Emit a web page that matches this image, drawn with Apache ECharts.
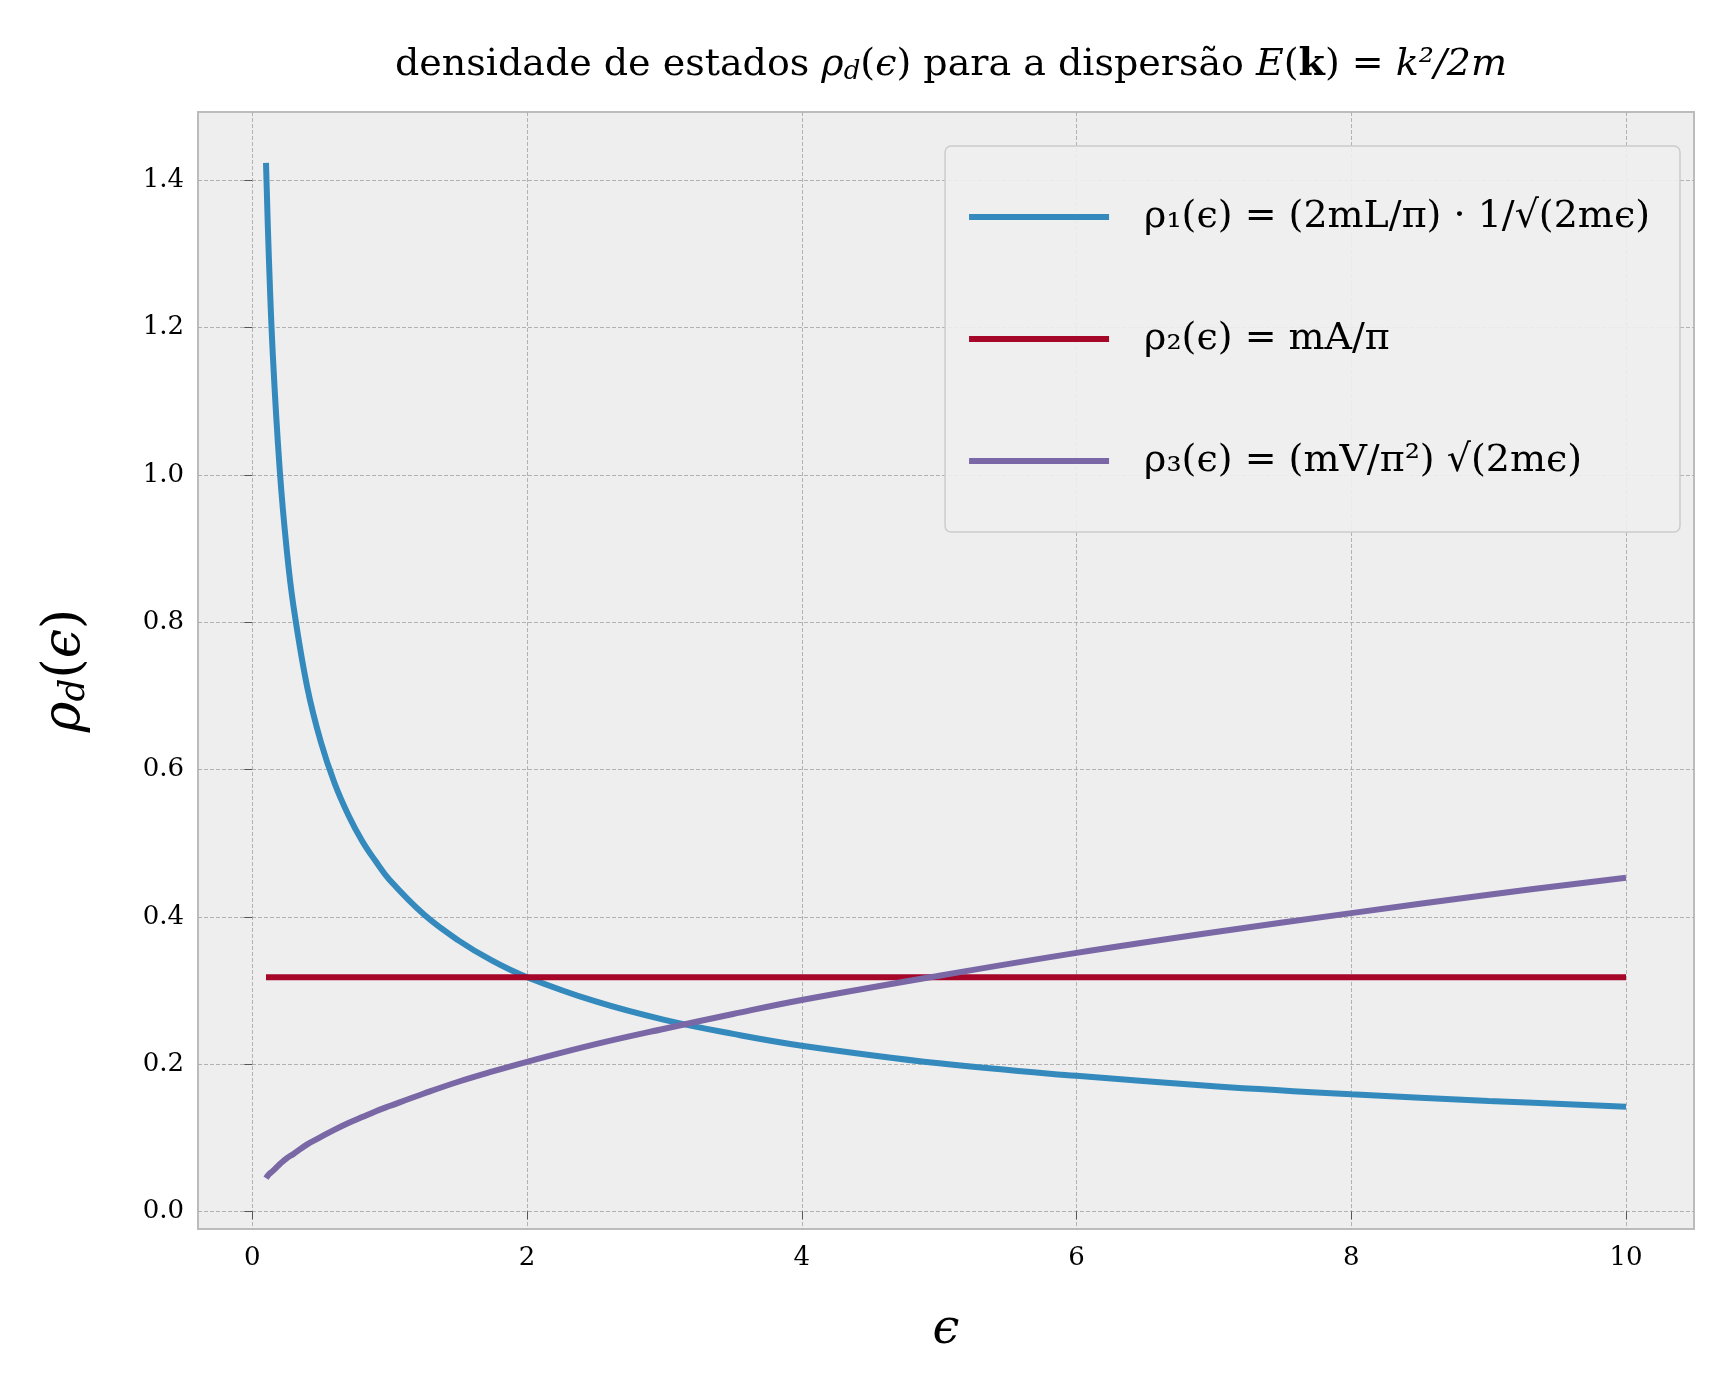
<!DOCTYPE html>
<html>
<head>
<meta charset="utf-8">
<script src="https://cdn.jsdelivr.net/npm/echarts@6/dist/echarts.min.js"></script>
<style>html,body{margin:0;padding:0;background:#fff}#main{width:1715px;height:1393px}</style>
</head>
<body>
<div id="main"></div>
<script>
// valores
var eps = [0.1, 0.12, 0.15, 0.2, 0.25, 0.3, 0.4, 0.5, 0.6, 0.7, 0.8, 0.9, 1, 1.25, 1.5, 1.75, 2, 2.5, 3, 3.5, 4, 5, 6, 7, 8, 9, 10];
var rho1 = [1.424, 1.300, 1.162, 1.007, 0.900, 0.822, 0.712, 0.637, 0.581, 0.538, 0.503, 0.475, 0.450, 0.403, 0.368, 0.340, 0.318, 0.285, 0.260, 0.241, 0.225, 0.201, 0.184, 0.170, 0.159, 0.150, 0.142];
var rho2 = [0.318, 0.318, 0.318, 0.318, 0.318, 0.318, 0.318, 0.318, 0.318, 0.318, 0.318, 0.318, 0.318, 0.318, 0.318, 0.318, 0.318, 0.318, 0.318, 0.318, 0.318, 0.318, 0.318, 0.318, 0.318, 0.318, 0.318];
var rho3 = [0.045, 0.050, 0.055, 0.064, 0.072, 0.078, 0.091, 0.101, 0.111, 0.120, 0.128, 0.136, 0.143, 0.160, 0.176, 0.190, 0.203, 0.227, 0.248, 0.268, 0.287, 0.320, 0.351, 0.379, 0.405, 0.430, 0.453];
var xTicks = [0, 2, 4, 6, 8, 10];
var yTicks = [0, 0.2, 0.4, 0.6, 0.8, 1.0, 1.2, 1.4];
var nomes = ['ρ₁(ϵ) = (2mL/π) · 1/√(2mϵ)', 'ρ₂(ϵ) = mA/π', 'ρ₃(ϵ) = (mV/π²) √(2mϵ)'];
var cores = ['#348ABD', '#A60628', '#7A68A6'];

function pares(ys){
	var out = [];
	for (var i = 0; i < eps.length; i++) out.push([eps[i], ys[i]]);
	return out;
}

var fonte = "'DejaVu Serif', 'Liberation Serif', serif";
var chart = echarts.init(document.getElementById('main'));
var option = {
	backgroundColor: '#ffffff',
	color: cores,
	textStyle: { fontFamily: fonte },
	title: {
		text: 'densidade de estados {i|ρ}{s|d}{n|(}{i|ϵ}{n|) para a dispersão} {i|E}{n|(}{b|k}{n|) = }{i|k²/2m}',
		left: 946, top: 40, textAlign: 'center',
		textStyle: { fontFamily: fonte, fontSize: 38, fontWeight: 'normal', color: '#000',
			rich: {
				n: { fontFamily: fonte, fontSize: 38, color: '#000' },
				i: { fontFamily: fonte, fontSize: 38, fontStyle: 'italic', color: '#000' },
				b: { fontFamily: fonte, fontSize: 38, fontWeight: 'bold', color: '#000' },
				s: { fontFamily: fonte, fontSize: 26, fontStyle: 'italic', color: '#000', padding: [14, 0, 0, 0] }
			} }
	},
	grid: { left: 198, right: 21, top: 112, bottom: 164, backgroundColor: '#eeeeee', show: true, borderColor: '#bcbcbc', borderWidth: 2 },
	legend: {
		right: 35, top: 146, orient: 'vertical',
		itemWidth: 140, itemHeight: 6, itemGap: 84, icon: 'rect',
		padding: [52, 30, 52, 24],
		backgroundColor: 'rgba(238,238,238,0.9)', borderColor: '#cccccc', borderWidth: 1.5, borderRadius: 6,
		textStyle: { fontFamily: fonte, fontSize: 38, color: '#000', padding: [0, 0, 0, 30] },
		data: nomes
	},
	xAxis: {
		type: 'value', min: -0.395, max: 10.495,
		name: 'ϵ', nameLocation: 'middle', nameGap: 78,
		nameTextStyle: { fontFamily: fonte, fontSize: 48, fontStyle: 'italic', color: '#000' },
		axisLine: { show: false },
		axisTick: { show: true, customValues: xTicks, length: 8, lineStyle: { color: '#555' } },
		axisLabel: { fontSize: 26, color: '#000', margin: 16, customValues: xTicks },
		splitLine: { lineStyle: { color: '#b2b2b2', type: 'dashed', width: 1 } }
	},
	yAxis: {
		type: 'value', min: -0.024, max: 1.493,
		name: '{i|ρ}{s|d}{n|(}{i|ϵ}{n|)}', nameLocation: 'middle', nameGap: 105, nameRotate: 90,
		nameTextStyle: { fontFamily: fonte, fontSize: 52, color: '#000',
			rich: {
				n: { fontFamily: fonte, fontSize: 52, color: '#000' },
				i: { fontFamily: fonte, fontSize: 52, fontStyle: 'italic', color: '#000' },
				s: { fontFamily: fonte, fontSize: 36, fontStyle: 'italic', color: '#000', padding: [20, 0, 0, 0] }
			} },
		axisLine: { show: false },
		axisTick: { show: true, customValues: yTicks, length: 8, lineStyle: { color: '#555' } },
		axisLabel: { fontSize: 26, color: '#000', margin: 14, customValues: yTicks,
			formatter: function(v){ return v.toFixed(1); } },
		splitLine: { lineStyle: { color: '#b2b2b2', type: 'dashed', width: 1 } }
	},
	series: [
		{ name: nomes[0], type: 'line', smooth: 0.4, showSymbol: false, data: pares(rho1), lineStyle: { width: 6 } },
		{ name: nomes[1], type: 'line', smooth: false, showSymbol: false, data: pares(rho2), lineStyle: { width: 6 } },
		{ name: nomes[2], type: 'line', smooth: 0.4, showSymbol: false, data: pares(rho3), lineStyle: { width: 6 } }
	]
};
chart.setOption(option);
</script>
</body>
</html>
